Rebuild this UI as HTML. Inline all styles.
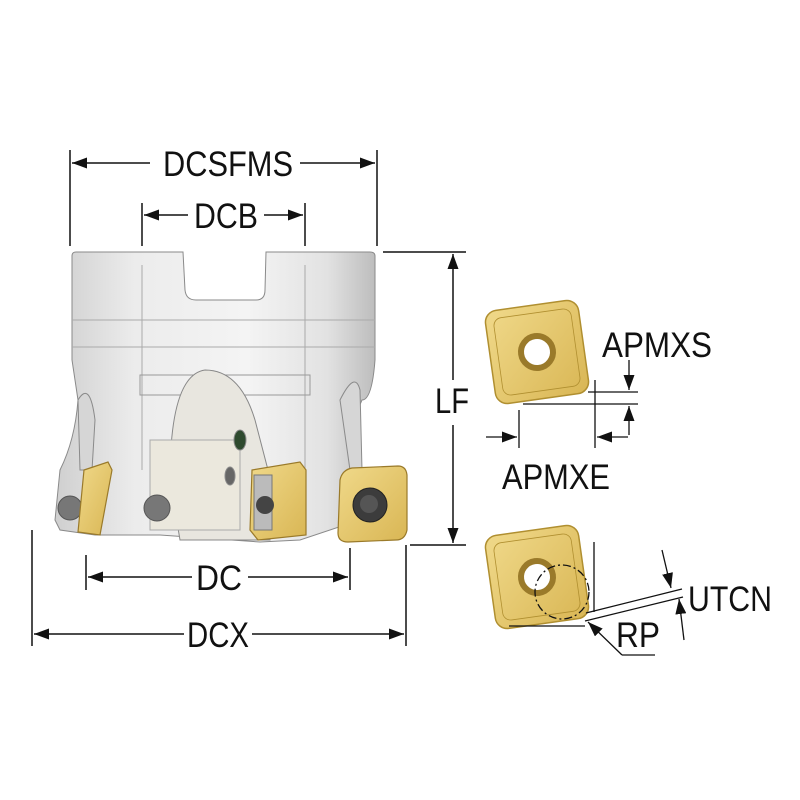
<!DOCTYPE html>
<html><head><style>html,body{margin:0;padding:0;background:#fff}svg{display:block}</style></head>
<body>
<svg width="800" height="800" viewBox="0 0 800 800" xmlns="http://www.w3.org/2000/svg" font-family="Liberation Sans, sans-serif">
<defs>
<marker id="a" viewBox="0 0 10 10" refX="10" refY="5" markerWidth="15" markerHeight="11" orient="auto-start-reverse" markerUnits="userSpaceOnUse" preserveAspectRatio="none"><path d="M0,0 L10,5 L0,10z" fill="#111"/></marker>
<linearGradient id="body" x1="0" x2="1" y1="0" y2="0">
<stop offset="0" stop-color="#cfcfcf"/><stop offset="0.25" stop-color="#ececec"/><stop offset="0.6" stop-color="#f4f4f4"/><stop offset="0.85" stop-color="#e2e2e2"/><stop offset="1" stop-color="#bdbdbd"/></linearGradient>
<linearGradient id="gold" x1="0" x2="1" y1="0" y2="1"><stop offset="0" stop-color="#f0d98a"/><stop offset="1" stop-color="#d9b654"/></linearGradient>
</defs>
<g stroke="#111" stroke-width="1.5" fill="none">
<line x1="70" y1="150" x2="70" y2="246"/><line x1="377" y1="150" x2="377" y2="246"/>
<line x1="72" y1="163" x2="150" y2="163" marker-start="url(#a)"/><line x1="300" y1="163" x2="375" y2="163" marker-end="url(#a)"/>
<line x1="142" y1="203" x2="142" y2="246"/><line x1="305" y1="203" x2="305" y2="246"/>
<line x1="144" y1="215" x2="188" y2="215" marker-start="url(#a)"/><line x1="264" y1="215" x2="303" y2="215" marker-end="url(#a)"/>
<line x1="383" y1="252" x2="466" y2="252"/><line x1="410" y1="545" x2="466" y2="545"/>
<line x1="453" y1="254" x2="453" y2="380" marker-start="url(#a)"/><line x1="453" y1="425" x2="453" y2="543" marker-end="url(#a)"/>
<line x1="86" y1="555" x2="86" y2="590"/><line x1="350" y1="548" x2="350" y2="590"/>
<line x1="88" y1="577" x2="192" y2="577" marker-start="url(#a)"/><line x1="248" y1="577" x2="348" y2="577" marker-end="url(#a)"/>
<line x1="32" y1="530" x2="32" y2="646"/><line x1="406" y1="545" x2="406" y2="646"/>
<line x1="34" y1="634" x2="184" y2="634" marker-start="url(#a)"/><line x1="252" y1="634" x2="404" y2="634" marker-end="url(#a)"/>
</g>
<g font-size="35" fill="#111" text-anchor="middle">
<text x="228" y="176" textLength="130" lengthAdjust="spacingAndGlyphs">DCSFMS</text>
<text x="226" y="228" textLength="64" lengthAdjust="spacingAndGlyphs">DCB</text>
<text x="452" y="413" textLength="34" lengthAdjust="spacingAndGlyphs">LF</text>
<text x="219" y="590" textLength="46" lengthAdjust="spacingAndGlyphs">DC</text>
<text x="218" y="647" textLength="62" lengthAdjust="spacingAndGlyphs">DCX</text>
<text x="657" y="357" textLength="110" lengthAdjust="spacingAndGlyphs">APMXS</text>
<text x="556" y="489" textLength="108" lengthAdjust="spacingAndGlyphs">APMXE</text>
<text x="730" y="611" textLength="84" lengthAdjust="spacingAndGlyphs">UTCN</text>
<text x="638" y="647" textLength="44" lengthAdjust="spacingAndGlyphs">RP</text>
</g>
<g stroke="#8a8a8a" stroke-width="1">
<path d="M72,256 Q72,252 76,252 L183,252 L185,290 Q186,300 196,300 L256,300 Q265,300 265,290 L266,252 L370,252 Q375,252 375,256 L375,360 Q372,400 362,400 Q348,430 350,470 L352,500 L345,525 L300,540 L260,542 L160,535 L95,535 L60,530 L55,520 L60,470 Q75,440 78,400 L72,360 Z" fill="url(#body)"/>
<path d="M72,320 L375,320 M72,347 L375,347 M142,265 L142,470 M305,265 L305,470" fill="none" stroke="#aaa"/>
<path d="M140,375 L310,375 L310,395 L140,395Z" fill="none" stroke="#999"/>
<path d="M170,480 Q170,375 205,370 Q240,370 255,420 L268,470 L270,540 L180,540Z" fill="#e8e6df" stroke="#888"/>
<path d="M150,440 L240,440 L240,530 L150,530Z" fill="#ebe8dd" stroke="#aaa"/>
<ellipse cx="240" cy="440" rx="6" ry="10" fill="#2e4a2e"/>
<ellipse cx="230" cy="476" rx="5" ry="9" fill="#666"/>
<circle cx="70" cy="508" r="12" fill="#777" stroke="#555"/>
<circle cx="157" cy="508" r="13" fill="#777" stroke="#555"/>
<path d="M340,400 Q355,370 360,390 L362,470 L350,470Z" fill="#d6d6d6"/>
<path d="M78,400 Q90,380 95,420 L92,470 L80,470Z" fill="#d6d6d6"/>
</g>
<g stroke="#9a7a2a" stroke-width="1.2" fill="url(#gold)">
<path d="M84,470 L108,462 L112,470 L100,535 L78,532 Z"/>
<path d="M252,470 L300,462 L306,470 L306,535 L258,540 L250,530 Z"/>
<path d="M340,480 Q342,470 352,468 L398,466 Q406,466 407,475 L407,530 Q405,540 396,540 L348,542 Q338,542 338,533 Z"/>
</g>
<circle cx="370" cy="505" r="17" fill="#3c3c3c" stroke="#222"/>
<circle cx="369" cy="504" r="9" fill="#555"/>
<rect x="254" y="475" width="18" height="55" fill="#bbb" stroke="#777"/>
<circle cx="265" cy="505" r="9" fill="#444"/>
<g transform="rotate(-8 537 352)">
<rect x="490" y="305" width="94" height="94" rx="12" fill="url(#gold)" stroke="#b08f30" stroke-width="1.5"/>
<rect x="498" y="313" width="78" height="78" rx="8" fill="none" stroke="#b08f30" stroke-width="0.8"/>
<circle cx="537" cy="352" r="16" fill="#fff" stroke="#9a7a2a" stroke-width="6"/>
</g>
<g transform="rotate(-8 537 577)">
<rect x="490" y="530" width="94" height="94" rx="12" fill="url(#gold)" stroke="#b08f30" stroke-width="1.5"/>
<rect x="498" y="538" width="78" height="78" rx="8" fill="none" stroke="#b08f30" stroke-width="0.8"/>
<circle cx="537" cy="577" r="16" fill="#fff" stroke="#9a7a2a" stroke-width="6"/>
</g>
<g stroke="#111" stroke-width="1.3" fill="none">
<line x1="523" y1="404" x2="638" y2="404"/><line x1="588" y1="392" x2="638" y2="392"/>
<line x1="519" y1="410" x2="519" y2="448"/><line x1="595" y1="380" x2="595" y2="448"/>
<line x1="486" y1="437" x2="517" y2="437" marker-end="url(#a)"/>
<line x1="628" y1="437" x2="597" y2="437" marker-end="url(#a)"/>
<line x1="629" y1="360" x2="629" y2="390" marker-end="url(#a)"/>
<line x1="629" y1="435" x2="629" y2="406" marker-end="url(#a)"/>
<line x1="509" y1="626" x2="585" y2="626"/>
<line x1="594" y1="542" x2="594" y2="612"/>
<circle cx="562" cy="592" r="27" stroke-dasharray="8,3,2,3"/>
<line x1="586" y1="613" x2="682" y2="589"/><line x1="585" y1="621" x2="683" y2="597"/>
<line x1="662" y1="550" x2="671" y2="588" marker-end="url(#a)"/>
<line x1="684" y1="640" x2="679" y2="599" marker-end="url(#a)"/>
<line x1="622" y1="655" x2="588" y2="622" marker-end="url(#a)"/>
<line x1="622" y1="655" x2="655" y2="655"/>
</g>
</svg>
</body></html>
